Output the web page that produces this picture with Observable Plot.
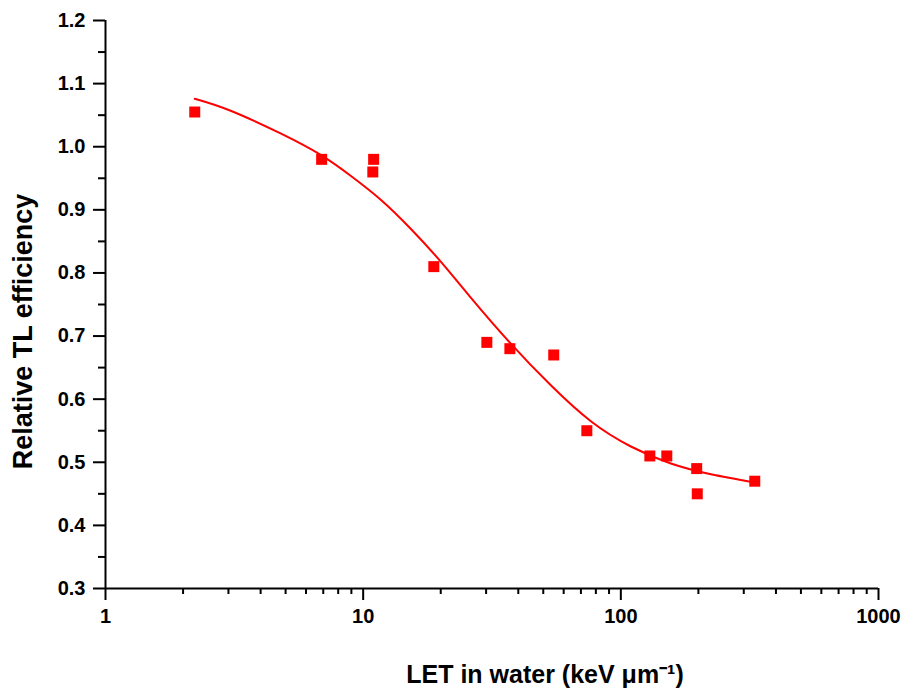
<!DOCTYPE html>
<html>
<head>
<meta charset="utf-8">
<script src="https://cdn.jsdelivr.net/npm/d3@7"></script>
<script src="https://cdn.jsdelivr.net/npm/@observablehq/plot@0.6"></script>
<style>
  html, body { margin: 0; padding: 0; background: #fff; }
</style>
</head>
<body>
<div id="chart"></div>
<script>
// Measured data (LET in water, keV/µm vs relative TL efficiency)
const letValues  = [2.22, 6.9, 10.98, 10.9, 18.8, 30.2, 37.1, 54.9, 73.8, 129.6, 150.8, 197, 198, 331];
const efficiency = [1.055, 0.98, 0.98, 0.96, 0.81, 0.69, 0.68, 0.67, 0.55, 0.51, 0.51, 0.49, 0.45, 0.47];

// Fitted curve
const fitLet = [2.22, 3.06, 4.78, 6.84, 8.94, 11.7, 15.29, 20.0, 26.16, 37.4, 53.5, 76.5, 109.4, 156.4, 223.6, 331];
const fitEff = [1.076, 1.057, 1.021, 0.987, 0.954, 0.916, 0.870, 0.818, 0.761, 0.688, 0.622, 0.565, 0.525, 0.498, 0.481, 0.468];

// Ticks
const xMajor = [1, 10, 100, 1000];
const xMinor = [2,3,4,5,6,7,8,9, 20,30,40,50,60,70,80,90, 200,300,400,500,600,700,800,900];
const yMajor = [0.3, 0.4, 0.5, 0.6, 0.7, 0.8, 0.9, 1.0, 1.1, 1.2];
const yMinor = [0.35, 0.45, 0.55, 0.65, 0.75, 0.85, 0.95, 1.05, 1.15];

const xLabel = "LET in water (keV \u03bcm\u207b\u00b9)";
const yLabel = "Relative TL efficiency";

const points = letValues.map((x, i) => ({x, y: efficiency[i]}));
const fit = fitLet.map((x, i) => ({x, y: fitEff[i]}));

const font = "'Liberation Sans', Arial, sans-serif";

const chart = Plot.plot({
  width: 901,
  height: 690,
  marginLeft: 105,
  marginRight: 23,
  marginTop: 20,
  marginBottom: 102,
  style: {fontFamily: font, background: "#fff", color: "#000"},
  x: {type: "log", domain: [1, 1000]},
  y: {domain: [0.3, 1.2]},
  marks: [
    Plot.axisY(yMajor, {tickSize: 12, tickPadding: 8, strokeWidth: 2, tickFormat: d => d.toFixed(1), fontSize: 20, fontWeight: "bold", label: null}),
    Plot.axisY(yMinor, {tickSize: 7, strokeWidth: 2, tickFormat: () => "", label: null}),
    Plot.axisX(xMajor, {tickSize: 12, tickPadding: 8, strokeWidth: 2, tickFormat: d => String(d), fontSize: 20, fontWeight: "bold", label: null}),
    Plot.axisX(xMinor, {tickSize: 6, strokeWidth: 2, tickFormat: () => "", label: null}),
    Plot.ruleX([1], {strokeWidth: 2}),
    Plot.ruleY([0.3], {strokeWidth: 2}),
    Plot.line(fit, {x: "x", y: "y", stroke: "#ff0000", strokeWidth: 2, curve: "natural"}),
    Plot.dot(points, {x: "x", y: "y", symbol: "square", r: 6.2, fill: "#ff0000", stroke: null}),
    Plot.text([xLabel], {frameAnchor: "bottom", dx: 53, dy: 86, text: d => d, fontSize: 25, fontWeight: "bold", textAnchor: "middle", lineAnchor: "middle"}),
    Plot.text([yLabel], {frameAnchor: "left", dx: -82, dy: 27, rotate: -90, text: d => d, fontSize: 27, fontWeight: "bold", textAnchor: "middle", lineAnchor: "middle"})
  ]
});
document.getElementById("chart").appendChild(chart);
</script>
</body>
</html>
